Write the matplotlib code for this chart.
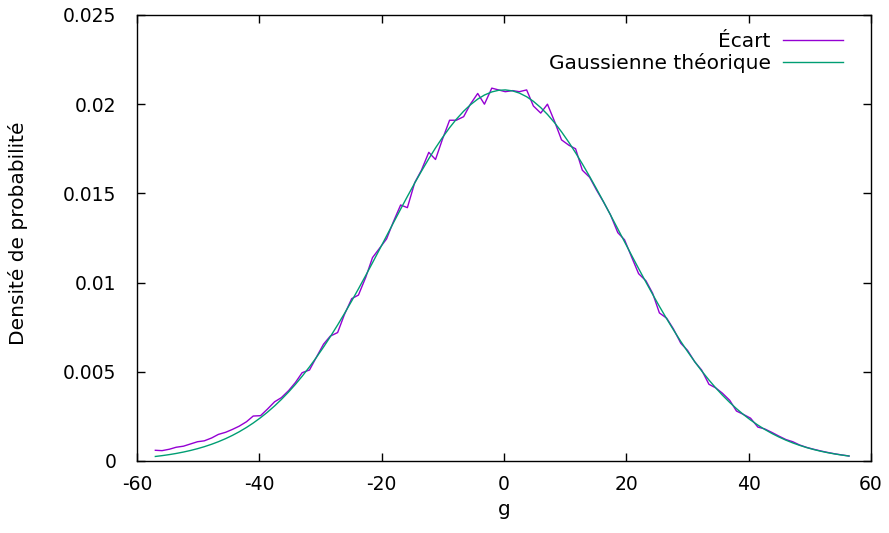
import matplotlib.pyplot as plt

# bin centres (g) and measured density
g_values = [
    -57.0, -55.9, -54.7, -53.6, -52.4, -51.3, -50.1, -49.0, -47.8, -46.7,
    -45.5, -44.4, -43.3, -42.1, -41.0, -39.8, -38.7, -37.5, -36.4, -35.2,
    -34.1, -33.0, -31.8, -30.7, -29.5, -28.4, -27.2, -26.1, -24.9, -23.8,
    -22.6, -21.5, -20.4, -19.2, -18.1, -16.9, -15.8, -14.6, -13.5, -12.3,
    -11.2, -10.1, -8.9, -7.8, -6.6, -5.5, -4.3, -3.2, -2.0, -0.9,
    0.2, 1.4, 2.5, 3.7, 4.8, 6.0, 7.1, 8.3, 9.4, 10.6,
    11.7, 12.8, 14.0, 15.1, 16.3, 17.4, 18.6, 19.7, 20.9, 22.0,
    23.2, 24.3, 25.4, 26.6, 27.7, 28.9, 30.0, 31.2, 32.3, 33.5,
    34.6, 35.7, 36.9, 38.0, 39.2, 40.3, 41.5, 42.6, 43.8, 44.9,
    46.1, 47.2, 48.3, 49.5, 50.6, 51.8, 52.9, 54.1, 55.2, 56.4,
]

ecart = [
    0.00060, 0.00058, 0.00066, 0.00077, 0.00083, 0.00095, 0.00108, 0.00113, 0.00129, 0.00149,
    0.00161, 0.00177, 0.00195, 0.00220, 0.00252, 0.00254, 0.00290, 0.00332, 0.00355, 0.00395,
    0.00440, 0.00495, 0.00510, 0.00580, 0.00655, 0.00700, 0.00720, 0.00820, 0.00910, 0.00930,
    0.01030, 0.01140, 0.01190, 0.01245, 0.01340, 0.01435, 0.01420, 0.01560, 0.01630, 0.01730,
    0.01690, 0.01800, 0.01910, 0.01910, 0.01930, 0.02000, 0.02060, 0.02000, 0.02090, 0.02080,
    0.02070, 0.02076, 0.02070, 0.02080, 0.01990, 0.01950, 0.02000, 0.01900, 0.01800, 0.01770,
    0.01750, 0.01630, 0.01590, 0.01520, 0.01450, 0.01380, 0.01280, 0.01240, 0.01140, 0.01050,
    0.01010, 0.00940, 0.00830, 0.00800, 0.00740, 0.00660, 0.00620, 0.00555, 0.00510, 0.00430,
    0.00410, 0.00380, 0.00340, 0.00280, 0.00260, 0.00240, 0.00190, 0.00180, 0.00160, 0.00140,
    0.00120, 0.00108, 0.00090, 0.00076, 0.00066, 0.00056, 0.00048, 0.00040, 0.00034, 0.00028,
]

# theoretical gaussian, read at the same g values
gauss = [
    0.000254, 0.000300, 0.000359, 0.000422, 0.000502, 0.000586, 0.000691, 0.000801, 0.000938, 0.001080,
    0.001255, 0.001435, 0.001636, 0.001880, 0.002128, 0.002427, 0.002728, 0.003088, 0.003448, 0.003874,
    0.004296, 0.004749, 0.005277, 0.005793, 0.006389, 0.006965, 0.007626, 0.008257, 0.008971, 0.009648,
    0.010404, 0.011111, 0.011827, 0.012616, 0.013338, 0.014120, 0.014826, 0.015578, 0.016244, 0.016941,
    0.017547, 0.018112, 0.018682, 0.019153, 0.019607, 0.019964, 0.020285, 0.020513, 0.020687, 0.020777,
    0.020800, 0.020745, 0.020624, 0.020417, 0.020160, 0.019809, 0.019426, 0.018945, 0.018451, 0.017860,
    0.017275, 0.016655, 0.015944, 0.015268, 0.014507, 0.013796, 0.013010, 0.012288, 0.011502, 0.010789,
    0.010024, 0.009338, 0.008670, 0.007967, 0.007347, 0.006700, 0.006137, 0.005555, 0.005053, 0.004540,
    0.004101, 0.003692, 0.003281, 0.002934, 0.002588, 0.002298, 0.002012, 0.001774, 0.001542, 0.001351,
    0.001165, 0.001014, 0.000879, 0.000749, 0.000645, 0.000546, 0.000467, 0.000393, 0.000334, 0.000278,
]

x_ticks = [-60, -40, -20, 0, 20, 40, 60]
y_ticks = [0, 0.005, 0.01, 0.015, 0.02, 0.025]
y_tick_labels = ["0", "0.005", "0.01", "0.015", "0.02", "0.025"]

plt.rcParams["font.family"] = ["DejaVu Sans"]

fig = plt.figure(figsize=(8.89, 5.33), dpi=100)
ax = fig.add_axes([0.1541, 0.1351, 0.8257, 0.8368])

ax.plot(g_values, ecart, color="#9400d3", lw=1.0, label="Écart")
ax.plot(g_values, gauss, color="#009e73", lw=1.0, label="Gaussienne théorique")

ax.set_xlim(-60, 60)
ax.set_ylim(0, 0.025)
ax.set_xticks(x_ticks)
ax.set_xticklabels([str(t) for t in x_ticks])
ax.set_yticks(y_ticks)
ax.set_yticklabels(y_tick_labels)
ax.tick_params(direction="in", top=True, right=True, length=6, width=1.0,
               labelsize=13.5, color="black")
ax.tick_params(axis="y", pad=15)
ax.tick_params(axis="x", pad=10)

for spine in ax.spines.values():
    spine.set_linewidth(1.0)

ax.set_xlabel("g", fontsize=14.5)
ax.xaxis.set_label_coords(0.5, -0.087)
ax.set_ylabel("Densité de probabilité", fontsize=14.5)
ax.yaxis.set_label_coords(-0.148, 0.51)

ax.legend(loc="upper right", bbox_to_anchor=(0.962, 0.962), frameon=False,
          markerfirst=False, fontsize=14.5, handlelength=3.0, handletextpad=0.6,
          labelspacing=0.12, borderpad=0, borderaxespad=0)

fig.savefig("out.png", dpi=100)
